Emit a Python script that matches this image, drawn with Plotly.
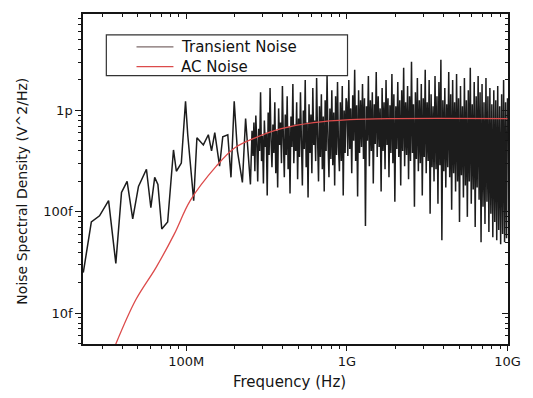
import numpy as np
import plotly.graph_objects as go

# ---- Transient noise: resolved low-frequency bins (MHz) and PSD (log10 V^2/Hz)
tn_low_mhz = [22.9, 25.7, 28.9, 32.9, 36.5, 39.6, 42.9, 46.5, 50.5, 56.6,
              60.3, 63.7, 66.7, 70.5, 76.7, 83.4, 86.9, 93.3, 99.1, 102.3,
              111.4, 116.7, 127.9, 137.4, 143.9, 150.7, 161.4, 169.0, 181.6, 190.1,
              199.1, 208.4, 223.9, 234.4, 251.2]
tn_low_log = [-13.60, -13.10, -13.04, -12.89, -13.51, -12.81, -12.70, -13.07, -12.75, -12.58,
              -12.96, -12.66, -12.73, -13.17, -13.10, -12.39, -12.60, -12.52, -11.91, -12.24,
              -12.89, -12.27, -12.34, -12.24, -12.40, -12.22, -12.55, -12.26, -12.24, -12.66,
              -11.91, -12.40, -12.71, -12.08, -12.73]

# ---- Transient noise, 257 MHz .. 990 MHz (log10 V^2/Hz), log-spaced bins
tn_mid_span_hz = (2.57e8, 9.89e8)
tn_mid_log = [
    -12.20, -12.45, -12.12, -12.60, -12.05, -12.32, -12.70, -12.18, -12.40, -11.82,
    -12.50, -12.25, -12.72, -12.10, -12.36, -12.22, -12.84, -12.02, -12.44, -11.78,
    -12.30, -12.56, -12.14, -12.42, -11.92, -12.62, -12.20, -12.76, -11.98, -12.34,
    -12.12, -12.52, -11.76, -12.28, -12.66, -12.04, -12.44, -11.86, -12.58, -12.16,
    -12.82, -12.06, -12.36, -11.74, -12.52, -12.14, -12.40, -11.92, -12.68, -12.08,
    -12.46, -11.82, -12.30, -12.74, -12.00, -12.38, -11.70, -12.56, -12.12, -12.86,
    -11.94, -12.42, -12.04, -12.62, -11.78, -12.34, -12.10, -12.50, -11.68, -12.28,
    -12.70, -11.96, -12.46, -11.84, -12.58, -12.06, -12.80, -11.90, -12.40, -11.66,
    -12.32, -12.66, -11.98, -12.48, -11.80, -12.54, -12.02, -12.74, -11.86, -12.44,
    -11.72, -12.36, -12.60, -11.92, -12.50, -11.76, -12.84, -12.00, -12.42, -11.88]

# ---- Transient noise, 1 GHz .. 10 GHz (log10 V^2/Hz), log-spaced bins
tn_high_span_hz = (1.0e9, 1.0e10)
tn_high_log = [
    -11.92, -12.45, -11.70, -12.38, -11.98, -12.62, -11.85, -12.30, -11.60, -12.50, -11.95, -12.85, -11.80, -12.42, -11.90,
    -12.36, -11.74, -12.48, -11.88, -13.14, -11.96, -12.30, -11.66, -12.55, -11.90, -12.40, -11.82, -12.72, -11.94, -12.33,
    -11.62, -12.46, -11.86, -12.36, -11.98, -12.80, -11.78, -12.40, -11.92, -12.58, -11.70, -12.34, -11.88, -12.66, -11.95,
    -12.42, -11.64, -12.52, -11.84, -12.90, -11.96, -12.38, -11.72, -12.46, -11.90, -12.74, -11.80, -12.40, -11.58, -12.55,
    -11.92, -12.44, -11.76, -12.68, -11.86, -12.50, -11.52, -12.42, -11.94, -12.95, -11.82, -12.48, -11.68, -12.60, -11.90,
    -12.52, -11.74, -12.84, -11.88, -12.46, -11.60, -12.62, -11.92, -12.50, -11.70, -13.02, -11.84, -12.56, -11.96, -12.70,
    -11.66, -12.58, -11.86, -12.92, -11.72, -12.54, -11.50, -13.28, -11.90, -12.60, -11.78, -12.76, -11.94, -12.56, -11.62,
    -12.66, -11.84, -12.98, -11.70, -12.62, -11.92, -12.80, -11.64, -12.70, -11.88, -13.10, -11.76, -12.64, -11.96, -12.86,
    -11.68, -12.74, -11.90, -13.05, -11.80, -12.70, -11.58, -12.92, -11.94, -12.78, -11.72, -13.15, -11.86, -12.76, -11.66,
    -12.88, -11.82, -13.30, -11.74, -12.95, -11.92, -13.12, -11.68, -12.90, -11.86, -13.20, -11.78, -13.02, -11.94, -13.25,
    -11.80, -13.10, -11.90, -13.28, -11.76, -13.18, -11.96, -13.32, -11.84, -13.22, -11.70, -13.30, -11.92, -13.26, -11.88]

# ---- AC (small-signal) noise: frequency (Hz) and PSD (log10 V^2/Hz)
ac_f_hz = [3.55e7, 4.85e7, 6.49e7, 8.43e7, 1.06e8, 1.54e8, 2.0e8, 2.69e8,
           3.91e8, 6.22e8, 1.04e9, 2.0e9, 1.0e10]
ac_log = [-14.35, -13.87, -13.55, -13.22, -12.89, -12.55, -12.37, -12.27,
          -12.18, -12.12, -12.09, -12.08, -12.08]

# ---- Axis ticks
x_tickvals = [1e8, 1e9, 1e10]
x_ticktext = ["100M", "1G", "10G"]
y_tickvals = [1e-14, 1e-13, 1e-12]
y_ticktext = ["10f", "100f", "1p"]
x_range_log = [7.358, 10.003]
y_range_log = [-14.304, -11.049]

# ---- assemble transient series
tn_f = np.concatenate([
    np.array(tn_low_mhz) * 1e6,
    np.geomspace(tn_mid_span_hz[0], tn_mid_span_hz[1], len(tn_mid_log)),
    np.geomspace(tn_high_span_hz[0], tn_high_span_hz[1], len(tn_high_log)),
])
tn_psd = 10.0 ** np.array(tn_low_log + tn_mid_log + tn_high_log)
ac_psd = 10.0 ** np.array(ac_log)

x_minor = [m * 10.0 ** d for d in range(7, 10) for m in range(2, 10)]
y_minor = [m * 10.0 ** d for d in range(-15, -11) for m in range(2, 10)]

FONT = "DejaVu Sans, Verdana, sans-serif"
INK = "#151515"
TRANS_COLOR = "#1c1c1c"
AC_COLOR = "#dc4b4b"

fig = go.Figure()
fig.add_trace(go.Scatter(x=tn_f, y=tn_psd, mode="lines", name="Transient Noise",
                         line=dict(color=TRANS_COLOR, width=1.5, simplify=False),
                         showlegend=False, hoverinfo="skip"))
fig.add_trace(go.Scatter(x=ac_f_hz, y=ac_psd, mode="lines", name="AC Noise",
                         line=dict(color=AC_COLOR, width=1.3, shape="spline", smoothing=1.0),
                         showlegend=False, hoverinfo="skip"))
# carrier for the mirrored (top/right) tick axes
fig.add_trace(go.Scatter(x=[1e9], y=[1e-12], xaxis="x2", yaxis="y2", mode="markers",
                         marker=dict(opacity=0), showlegend=False, hoverinfo="skip"))

common_x = dict(type="log", range=x_range_log, tickvals=x_tickvals, showgrid=False,
                zeroline=False, tickcolor=INK, tickwidth=1)
common_y = dict(type="log", range=y_range_log, tickvals=y_tickvals, showgrid=False,
                zeroline=False, tickcolor=INK, tickwidth=1)

fig.update_layout(
    width=533, height=398,
    margin=dict(l=83, r=13, t=12, b=54),
    paper_bgcolor="white", plot_bgcolor="white",
    font=dict(family=FONT, color=INK),
    xaxis=dict(**common_x, ticktext=x_ticktext, ticks="outside", ticklen=5,
               showline=True, linecolor=INK, linewidth=1.5, mirror=True,
               tickfont=dict(size=13, family=FONT, color=INK),
               minor=dict(ticks="outside", ticklen=3, tickvals=x_minor,
                          tickcolor=INK, showgrid=False)),
    yaxis=dict(**common_y, ticktext=y_ticktext, ticks="outside", ticklen=6,
               showline=True, linecolor=INK, linewidth=1.5, mirror=True,
               tickfont=dict(size=13, family=FONT, color=INK),
               minor=dict(ticks="outside", ticklen=3, tickvals=y_minor,
                          tickcolor=INK, showgrid=False)),
    xaxis2=dict(**common_x, overlaying="x", side="top", anchor="y", ticks="inside",
                ticklen=5, showticklabels=False, showline=False,
                minor=dict(ticks="inside", ticklen=3, tickvals=x_minor,
                           tickcolor=INK, showgrid=False)),
    yaxis2=dict(**common_y, overlaying="y", side="right", anchor="x", ticks="inside",
                ticklen=6, showticklabels=False, showline=False,
                minor=dict(ticks="inside", ticklen=3, tickvals=y_minor,
                           tickcolor=INK, showgrid=False)),
)

# axis titles
fig.add_annotation(text="Frequency (Hz)", xref="paper", yref="paper", x=0.485, y=-0.1145,
                   xanchor="center", yanchor="middle", showarrow=False,
                   font=dict(size=15, family=FONT, color=INK))
fig.add_annotation(text="Noise Spectral Density (V^2/Hz)", xref="paper", yref="paper",
                   x=-0.1442, y=0.4639, textangle=-90, xanchor="center", yanchor="middle",
                   showarrow=False, font=dict(size=14, family=FONT, color=INK))

# legend box with line samples
fig.add_shape(type="rect", xref="paper", yref="paper", x0=0.0549, x1=0.6224,
              y0=0.813, y1=0.9367, line=dict(color="#333333", width=1.2),
              fillcolor="white", layer="above")
legend_rows = [("Transient Noise", "#7d6b6b", 0.9006), ("AC Noise", AC_COLOR, 0.8404)]
for label, color, yy in legend_rows:
    fig.add_shape(type="line", xref="paper", yref="paper", x0=0.1259, x1=0.2128,
                  y0=yy, y1=yy, line=dict(color=color, width=1.2), layer="above")
    fig.add_annotation(text=label, xref="paper", yref="paper", x=0.2265, y=yy,
                       xanchor="left", yanchor="middle", showarrow=False,
                       font=dict(size=15, family=FONT, color="#111111"))

fig.write_html("out.html")
